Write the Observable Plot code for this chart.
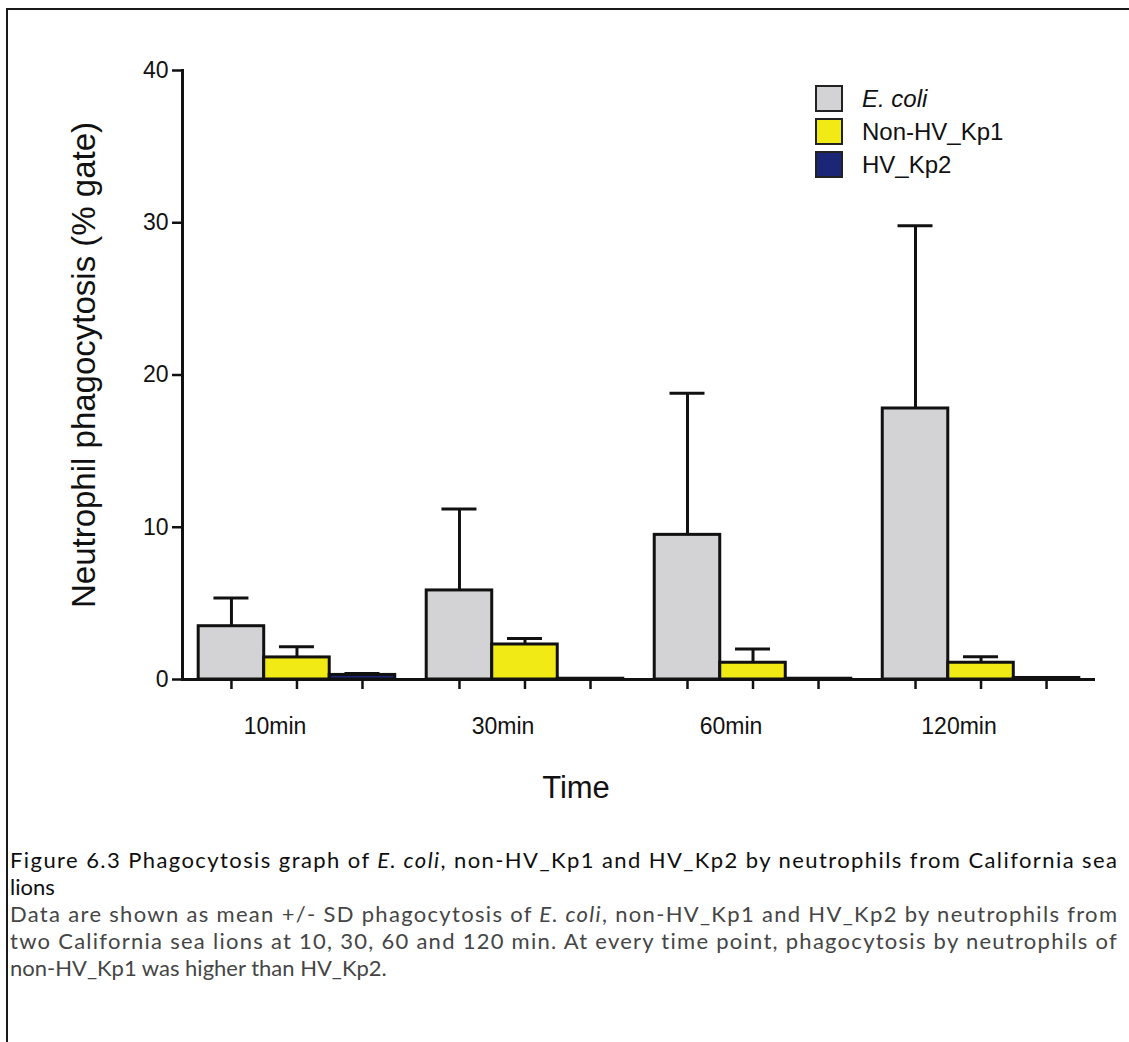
<!DOCTYPE html>
<html>
<head>
<meta charset="utf-8">
<script src="https://cdn.jsdelivr.net/npm/d3@7"></script>
<script src="https://cdn.jsdelivr.net/npm/@observablehq/plot@0.6"></script>
<style>
html, body { margin: 0; padding: 0; background: #fff; }
body { width: 1129px; height: 1042px; position: relative; overflow: hidden; }
#frame { position: absolute; left: 6px; top: 8px; right: -10px; bottom: -10px;
  border-top: 2.5px solid #1a1a1a; border-left: 2.5px solid #1a1a1a; }
#chart { position: absolute; left: 0; top: 0; }
#legend { position: absolute; left: 815px; top: 82px; font-family: "Liberation Sans", Arial, sans-serif;
  font-size: 24px; color: #111; }
.item { display: flex; align-items: center; height: 33px; }
.sw { width: 28px; height: 27px; box-sizing: border-box; border: 2px solid #222; margin-right: 19px; }
#caption { position: absolute; left: 10px; top: 847px; width: 1107px; font-family: Lato, "Open Sans", sans-serif; font-size: 22px; }
.line { white-space: nowrap; }
.line > span { display: inline-block; }
.title { color: #0e0e0e; line-height: 26.5px; height: 26.5px; }
.body { color: #454545; line-height: 27px; height: 27px; }
#bodyblock { margin-top: 0; }
</style>
</head>
<body>
<div id="frame"></div>
<div id="chart"></div>
<div id="legend"></div>
<div id="caption">
  <div class="line title fit"><span>Figure 6.3 Phagocytosis graph of <i>E. coli</i>, non-HV_Kp1 and HV_Kp2 by neutrophils from California sea</span></div>
  <div class="line title"><span>lions</span></div>
  <div id="bodyblock">
    <div class="line body fit"><span>Data are shown as mean +/- SD phagocytosis of <i>E. coli</i>, non-HV_Kp1 and HV_Kp2 by neutrophils from</span></div>
    <div class="line body fit"><span>two California sea lions at 10, 30, 60 and 120 min. At every time point, phagocytosis by neutrophils of</span></div>
    <div class="line body"><span>non-HV_Kp1 was higher than HV_Kp2.</span></div>
  </div>
</div>
<script>
const times = ["10min", "30min", "60min", "120min"];
const series = ["E. coli", "Non-HV_Kp1", "HV_Kp2"];
const ecoliMean = [3.5, 5.85, 9.5, 17.8];
const ecoliSD = [1.85, 5.35, 9.3, 12.0];
const nonHvMean = [1.45, 2.3, 1.1, 1.1];
const nonHvSD = [0.7, 0.4, 0.9, 0.4];
const hvMean = [0.3, 0.05, 0.05, 0.1];
const hvSD = [0.1, 0.02, 0.02, 0.03];
const seriesColors = ["#d3d3d5", "#f2ea14", "#1c2676"];
const yTicks = [0, 10, 20, 30, 40];
const yLabel = "Neutrophil phagocytosis (% gate)";
const xLabel = "Time";

const means = [ecoliMean, nonHvMean, hvMean];
const sds = [ecoliSD, nonHvSD, hvSD];
const data = times.flatMap((t, i) => series.map((s, j) => ({time: t, series: s, mean: means[j][i], sd: sds[j][i]})));

const W = 1129, H = 830, mL = 182, mR = 34, mT = 70, mB = 151;
const pIn = 0.138, pOut = 0.071;
const step = (W - mL - mR) / (times.length - pIn + 2 * pOut);
const bw = step * (1 - pIn);
const barW = bw / series.length;
const capHalf = 17.5;
const ink = "#111";

const marks = [];
series.forEach((s, j) => {
  const sub = data.filter(d => d.series === s);
  const off = (j - (series.length - 1) / 2) * barW;
  marks.push(Plot.ruleX(sub, {x: "time", y1: "mean", y2: d => d.mean + d.sd, dx: off, stroke: ink, strokeWidth: 3}));
  marks.push(Plot.tickY(sub, {x: "time", y: d => d.mean + d.sd, insetLeft: bw / 2 + off - capHalf, insetRight: bw / 2 - off - capHalf, stroke: ink, strokeWidth: 3}));
  marks.push(Plot.barY(sub, {x: "time", y: "mean", fill: seriesColors[j], stroke: ink, strokeWidth: 3,
    insetLeft: j * barW, insetRight: (series.length - 1 - j) * barW}));
  marks.push(Plot.axisX({tickSize: 10, tickFormat: () => "", dx: off, strokeWidth: 2.5, label: null}));
});
marks.push(Plot.axisX({tickSize: 0, tickPadding: 38, fontSize: 23, dx: -22, label: null}));
marks.push(Plot.axisY({ticks: yTicks, tickSize: 10, tickPadding: 4, fontSize: 23, strokeWidth: 2.5, label: null}));
marks.push(Plot.ruleY([0], {stroke: ink, strokeWidth: 3}));
marks.push(Plot.frame({anchor: "left", stroke: ink, strokeWidth: 3}));
marks.push(Plot.text([yLabel], {text: d => d, frameAnchor: "left", textAnchor: "middle", rotate: -90, dx: -98, dy: -10, fontSize: 33, fill: ink}));
marks.push(Plot.text([xLabel], {text: d => d, frameAnchor: "bottom", dx: -63, dy: 118, fontSize: 31, fill: ink}));

const chart = Plot.plot({
  width: W, height: H,
  marginLeft: mL, marginRight: mR, marginTop: mT, marginBottom: mB,
  style: {fontFamily: '"Liberation Sans", Arial, sans-serif', color: ink, background: "transparent", overflow: "visible"},
  x: {type: "band", domain: times, paddingInner: pIn, paddingOuter: pOut, round: false, label: null},
  y: {domain: [0, 40], label: null},
  marks
});
document.getElementById("chart").appendChild(chart);

const legend = document.getElementById("legend");
series.forEach((s, j) => {
  const item = document.createElement("div");
  item.className = "item";
  const sw = document.createElement("div");
  sw.className = "sw";
  sw.style.background = seriesColors[j];
  const label = document.createElement("span");
  label.textContent = s;
  if (j === 0) label.style.fontStyle = "italic";
  item.appendChild(sw);
  item.appendChild(label);
  legend.appendChild(item);
});

document.querySelectorAll(".fit").forEach(div => {
  const span = div.querySelector("span");
  const w = span.getBoundingClientRect().width;
  const n = span.textContent.length;
  span.style.letterSpacing = ((1107 - w) / (n - 1)) + "px";
});
</script>
</body>
</html>
